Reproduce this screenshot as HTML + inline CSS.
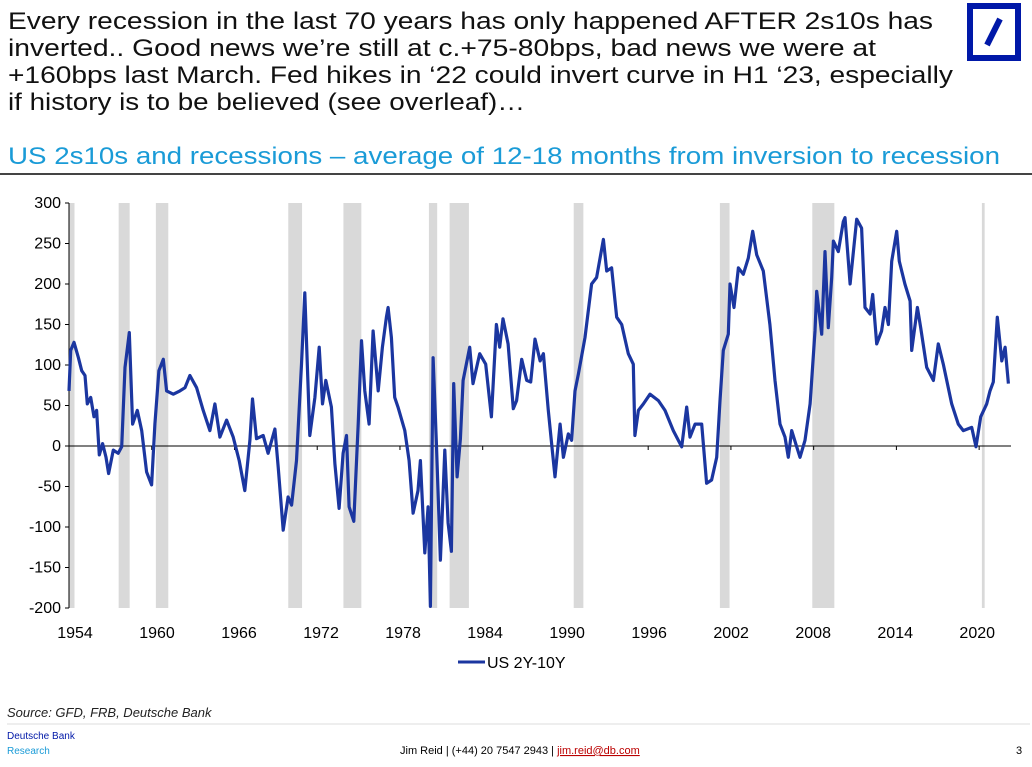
<!DOCTYPE html>
<html><head><meta charset="utf-8"><style>
html,body{margin:0;padding:0;background:#fff;}
body{width:1032px;height:767px;overflow:hidden;position:relative;font-family:"Liberation Sans",sans-serif;}
svg{position:absolute;left:0;top:0;}
</style></head><body>
<svg width="1032" height="767" viewBox="0 0 1032 767">
  <g font-family="Liberation Sans, sans-serif" font-size="24" fill="#111">
    <text x="8" y="29" textLength="925" lengthAdjust="spacingAndGlyphs">Every recession in the last 70 years has only happened AFTER 2s10s has</text>
    <text x="8" y="56" textLength="868" lengthAdjust="spacingAndGlyphs">inverted.. Good news we’re still at c.+75-80bps, bad news we were at</text>
    <text x="8" y="83" textLength="945" lengthAdjust="spacingAndGlyphs">+160bps last March. Fed hikes in ‘22 could invert curve in H1 ‘23, especially</text>
    <text x="8" y="110" textLength="517" lengthAdjust="spacingAndGlyphs">if history is to be believed (see overleaf)…</text>
  </g>
  <g>
    <rect x="970" y="6" width="48" height="52" fill="none" stroke="#0018a8" stroke-width="6"/>
    <line x1="987" y1="45" x2="1000" y2="19" stroke="#0018a8" stroke-width="6"/>
  </g>
  <text x="8" y="164" textLength="992" lengthAdjust="spacingAndGlyphs" font-size="24" fill="#1a9bd7">US 2s10s and recessions – average of 12-18 months from inversion to recession</text>
  <line x1="0" y1="174" x2="1032" y2="174" stroke="#444" stroke-width="2"/>
  <g id="chart"></g>
  <g>
    <line x1="458" y1="662" x2="485" y2="662" stroke="#1b36a0" stroke-width="3"/>
    <text x="487" y="668" font-size="16" fill="#000">US 2Y-10Y</text>
  </g>
  <text x="7" y="717" font-size="13" font-style="italic" fill="#222">Source: GFD, FRB, Deutsche Bank</text>
  <line x1="7" y1="724" x2="1030" y2="724" stroke="#ddd" stroke-width="1"/>
  <text x="7" y="739" font-size="10" fill="#0018a8">Deutsche Bank</text>
  <text x="7" y="754" font-size="10" fill="#1a9bd7">Research</text>
  <text x="400" y="754" font-size="11" fill="#000">Jim Reid | (+44) 20 7547 2943 | <tspan fill="#b00" text-decoration="underline">jim.reid@db.com</tspan></text>
  <text x="1016" y="754" font-size="11" fill="#000">3</text>
</svg>
<script>
const years = [1954.00,1954.12,1954.36,1954.68,1954.92,1955.16,1955.33,1955.57,1955.81,1956.00,1956.20,1956.44,1956.68,1956.87,1957.21,1957.57,1957.82,1958.06,1958.37,1958.61,1958.95,1959.27,1959.63,1959.99,1960.23,1960.52,1960.84,1961.08,1961.56,1962.04,1962.41,1962.77,1963.25,1963.73,1964.22,1964.58,1964.94,1965.43,1965.91,1966.34,1966.75,1967.12,1967.31,1967.60,1968.08,1968.44,1968.93,1969.17,1969.53,1969.89,1970.14,1970.50,1970.86,1971.10,1971.46,1971.83,1972.14,1972.38,1972.62,1973.03,1973.28,1973.59,1973.88,1974.12,1974.31,1974.65,1974.97,1975.21,1975.45,1975.76,1976.05,1976.42,1976.73,1977.02,1977.14,1977.38,1977.62,1977.86,1978.35,1978.66,1978.95,1979.31,1979.48,1979.80,1980.04,1980.21,1980.40,1980.64,1980.93,1981.25,1981.49,1981.73,1981.90,1982.14,1982.38,1982.58,1983.06,1983.30,1983.78,1984.22,1984.63,1984.99,1985.23,1985.47,1985.84,
1986.22,1986.46,1986.83,1987.19,1987.48,1987.79,1988.16,1988.40,1988.76,1989.07,1989.24,1989.61,1989.85,1990.21,1990.45,1990.69,1990.94,1991.42,1991.90,1992.26,1992.75,1992.99,1993.35,1993.72,1994.08,1994.56,1994.92,1995.04,1995.29,1995.65,1996.13,1996.74,1997.22,1997.82,1998.43,1998.79,1999.03,1999.40,1999.88,2000.24,2000.60,2000.97,2001.21,2001.45,2001.81,2001.93,2002.22,2002.54,2002.90,2003.26,2003.58,2003.87,2004.35,2004.83,2005.20,2005.56,2005.92,2006.16,2006.41,2006.77,2007.01,2007.37,2007.74,2008.10,2008.22,2008.58,2008.82,2009.06,2009.31,2009.43,2009.79,2010.15,2010.27,2010.64,2010.88,2011.12,2011.48,2011.72,2012.09,2012.28,2012.57,2012.93,2013.17,2013.42,2013.66,2014.02,2014.21,2014.62,2014.99,2015.11,2015.52,2015.76,2016.20,2016.68,2017.04,2017.40,2018.01,2018.49,2018.85,2019.46,2019.77,2020.11,2020.55,2020.79,2021.03,2021.32,2021.64,2021.88,2022.12];
const spread = [68,118,128,109,93,87,52,60,36,44,-11,3,-14,-34,-5,-9,-1,97,140,27,44,19,-32,-48,27,93,107,68,64,68,72,87,72,44,19,52,11,32,11,-18,-55,7,58,9,13,-9,21,-26,-104,-63,-73,-18,101,189,13,60,122,52,81,48,-22,-77,-9,13,-75,-93,27,130,68,27,142,68,122,159,171,134,60,48,19,-18,-83,-55,-18,-132,-75,-198,109,3,-141,-5,-95,-130,77,-38,9,81,122,77,114,101,36,150,122,157,126,
46,56,107,81,79,132,105,114,44,-9,-38,27,-14,15,7,68,89,134,200,208,255,216,220,159,150,114,101,13,44,52,64,56,44,19,-1,48,11,27,27,-46,-42,-14,56,118,138,200,171,220,212,232,265,236,216,150,81,27,11,-14,19,-1,-14,7,52,142,191,138,240,146,208,253,240,277,282,200,240,280,269,171,163,187,126,142,171,150,228,265,228,200,179,118,171,146,97,81,126,101,52,27,19,23,-1,36,52,68,79,159,105,122,77];
const recStart = [1954.0,1957.6,1960.3,1969.9,1973.9,1980.1,1981.6,1990.6,2001.2,2007.9,2020.2];
const recEnd   = [1954.4,1958.4,1961.2,1970.9,1975.2,1980.7,1983.0,1991.3,2001.9,2009.5,2020.4];
const yTicks = [300,250,200,150,100,50,0,-50,-100,-150,-200];
const xTicks = [1954,1960,1966,1972,1978,1984,1990,1996,2002,2008,2014,2020];

const NS = "http://www.w3.org/2000/svg";
const X0 = 69, PXY = 13.79, Y0 = 446, PXV = 0.81;
const xs = y => X0 + (y - 1954) * PXY;
const xl = y => 75 + (y - 1954) * 13.67;
const ys = v => Y0 - v * PXV;
const g = document.getElementById('chart');
function mk(tag, attrs){const e=document.createElementNS(NS,tag);for(const k in attrs)e.setAttribute(k,attrs[k]);g.appendChild(e);return e;}

recStart.forEach((s,i)=>{
  const r = mk('rect',{x:xs(s),y:ys(300),width:xs(recEnd[i])-xs(s),height:ys(-200)-ys(300),fill:'#d9d9d9'});
  
  
});
const ax = mk('line',{x1:X0,y1:ys(300),x2:X0,y2:ys(-200),stroke:'#000','stroke-width':1});


yTicks.forEach(v=>{
  const t = mk('line',{x1:X0-4,y1:ys(v),x2:X0,y2:ys(v),stroke:'#000'});
  
  
  const l = mk('text',{x:X0-8,y:ys(v)+5,'text-anchor':'end','font-size':16,fill:'#000'});
  l.textContent = v;
  
  
});
const zx = mk('line',{x1:X0,y1:ys(0),x2:1011,y2:ys(0),stroke:'#000','stroke-width':1});


xTicks.forEach(yr=>{
  const t = mk('line',{x1:xs(yr),y1:ys(0),x2:xs(yr),y2:ys(0)+4,stroke:'#000'});
  
  
  const l = mk('text',{x:xl(yr),y:638,'text-anchor':'middle','font-size':16,fill:'#000'});
  l.textContent = yr;
  
  
});
const d = years.map((y,i)=>(i?'L':'M')+xs(y).toFixed(1)+','+ys(spread[i]).toFixed(1)).join('');
const p = mk('path',{d:d,fill:'none',stroke:'#1b36a0','stroke-width':3.2,'stroke-linejoin':'round'});


</script>
</body></html>
